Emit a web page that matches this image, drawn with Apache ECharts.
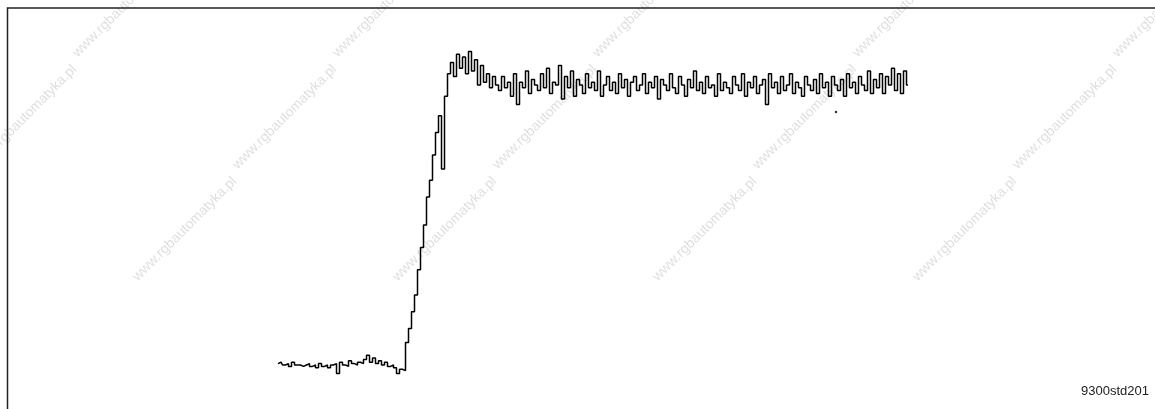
<!DOCTYPE html>
<html>
<head>
<meta charset="utf-8">
<title>9300std201</title>
<script src="https://cdn.jsdelivr.net/npm/echarts@6/dist/echarts.min.js"></script>
<style>
  html, body { margin: 0; padding: 0; background: #fff; }
  #chart { width: 1155px; height: 409px; }
</style>
</head>
<body>
<div id="chart"></div>
<script>
// step response, sampled; speed in % of setpoint
const baseline = [0.5, 1, 0, 0.5, -0.5, 1, 0, 0, -0.5, 0, 0.5, -0.5, 0, -1, 0.5, -0.5, 0, -1, 0, 0.5, -3,
  1, 0, -0.5, 1.5, 0.5, 0, 1, 0.5, 2, 3.5, 1, 2.5, 0.5, 1.5, 0, 1, -0.5, 0, -1, -3, -1.5]
const rise = [-2, 8, 13, 19, 25, 34, 42, 50, 60, 66, 75, 83, 89, 70, 96, 104, 108]
const overshoot = [103, 111, 106, 110, 104, 112, 105, 109, 100, 107, 101, 104, 99, 103]
const steady = [
  100, 98, 103, 99, 101, 96, 104, 93, 101, 99, 105, 97, 102, 100,
  98, 104, 99, 106, 97, 101, 100, 107, 95, 103, 99, 105, 96, 102,
  100, 97, 104, 99, 101, 98, 105, 96, 100, 103, 98, 101, 97, 104,
  99, 102, 96, 101, 103, 98, 100, 104, 97, 101, 99, 103, 95, 102,
  100, 98, 104, 99, 97, 103, 100, 96, 102, 99, 105, 98, 101, 97,
  103, 99, 100, 96, 104, 98, 101, 99, 97, 103, 100, 98, 104, 96,
  101, 99, 103, 97, 100, 102, 93, 104, 99, 101, 97, 103, 98, 100,
  104, 97, 101, 99, 96, 103, 100, 98, 102, 97, 104, 99, 101, 96,
  103, 100, 98, 102, 96, 104, 99, 101, 97, 103, 100, 98, 105, 97,
  102, 99, 104, 97, 103, 100, 106, 98, 104, 97, 105, 100
]
const outliers = [[186, 90.4]]
const figureLabel = '9300std201'
const watermark = 'www.rgbautomatyka.pl'

const samples = baseline.concat(rise, overshoot, steady)
const lineData = samples.map(function (v, i) { return [i, v] })

// watermark lattice (decoration only)
const marks = []
for (let r = -1; r < 3; r++) {
  for (let c = -1; c < 6; c++) {
    marks.push({
      type: 'text',
      x: 70 + c * 260 + r * 160,
      y: 50 + r * 112,
      rotation: Math.PI / 4,
      silent: true,
      z: -1,
      style: {
        text: watermark,
        fill: '#e0e0e0',
        font: '14px "Liberation Sans", Arial, sans-serif'
      }
    })
  }
}

const chart = echarts.init(document.getElementById('chart'))
chart.setOption({
  animation: false,
  grid: { left: 278, right: 247, top: 43, bottom: 30 },
  xAxis: { type: 'value', min: 0, max: 210, show: false },
  yAxis: { type: 'value', min: -5, max: 115, show: false },
  graphic: marks.concat([
    {
      type: 'rect',
      silent: true,
      shape: { x: 7.5, y: 8, width: 1200, height: 500 },
      style: { fill: null, stroke: '#222', lineWidth: 1.5 }
    },
    {
      type: 'text',
      right: 6,
      top: 385,
      silent: true,
      style: {
        text: figureLabel,
        fill: '#222',
        font: '13px "Liberation Sans", Arial, sans-serif'
      }
    }
  ]),
  series: [
    {
      type: 'line',
      step: 'middle',
      data: lineData,
      showSymbol: false,
      lineStyle: { color: '#000', width: 1.5 }
    },
    {
      type: 'scatter',
      data: outliers,
      symbolSize: 2.5,
      itemStyle: { color: '#000' }
    }
  ]
})
</script>
</body>
</html>
